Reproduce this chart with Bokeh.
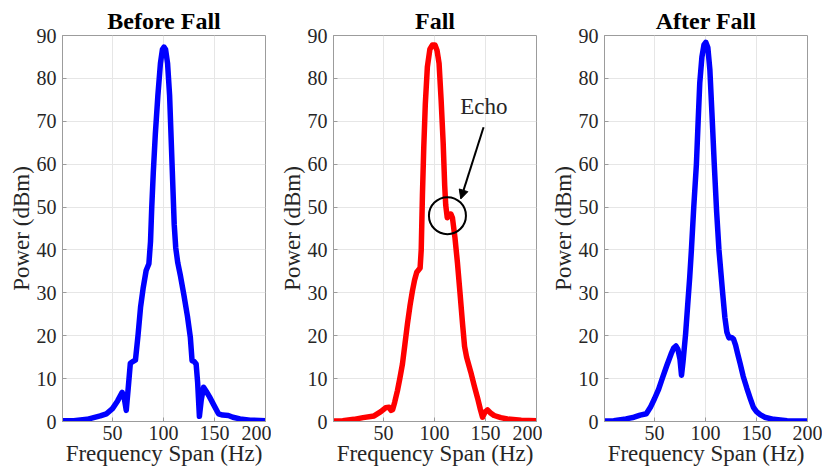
from bokeh.plotting import figure
from bokeh.layouts import row
from bokeh.models import Arrow, NormalHead, Label, FixedTicker, Range1d
from bokeh.embed import file_html
from bokeh.resources import INLINE

# ---- spectrum samples (frequency in Hz, power in dBm) ----
before_f = [1, 12, 25, 38, 44, 50, 55, 59.5, 61.5, 63.5, 65.5, 67.5, 70, 72.5, 75,
            77.5, 80, 83, 85.7, 87.3, 88.5, 90, 92, 94.5, 97, 99, 100.5, 102, 104,
            106, 107.5, 109, 110.5, 112, 114, 116.6, 120, 123.5, 126.3, 128, 130,
            132, 133.5, 135.2, 137, 139.3, 142, 145, 149, 153.9, 158, 163.6, 168,
            175, 185, 200]
before_p = [0.2, 0.2, 0.5, 1.3, 1.8, 3.0, 4.8, 6.8, 5.5, 2.6, 8.0, 13.6, 14.0, 14.3,
            20.0, 26.6, 31.0, 35.2, 36.8, 42.0, 50.0, 58.0, 67.0, 76.0, 83.5, 86.8,
            87.3, 86.8, 83.5, 76.0, 66.0, 56.0, 46.0, 40.5, 37.0, 34.0, 29.5, 24.5,
            19.7, 14.2, 14.0, 13.4, 9.0, 1.2, 5.0, 8.0, 7.0, 5.8, 4.0, 1.8, 1.5, 1.4,
            1.0, 0.6, 0.3, 0.2]

fall_f = [1, 10, 21, 30, 40.8, 47.4, 52, 55.5, 57.5, 59, 61, 63.7, 66, 68.6, 71,
          73.5, 76, 78.4, 80.5, 82.6, 85.9, 87, 88.2, 89.5, 91, 93, 95.5, 98, 100.5,
          102.5, 104.5, 106.5, 108.5, 110, 111, 112.5, 114, 116, 117.6, 120, 122.5,
          125, 127.5, 129.5, 131.5, 135.6, 139, 142.2, 145, 147.1, 149.5, 152, 155,
          158.4, 165, 171.5, 185, 200]
fall_p = [0.1, 0.2, 0.5, 0.9, 1.3, 2.3, 3.2, 3.3, 2.6, 2.8, 4.5, 7.2, 10.0, 13.4,
          18.0, 22.8, 27.0, 30.5, 33.0, 34.8, 35.8, 40.0, 53.0, 64.0, 74.0, 82.6,
          86.8, 87.8, 87.8, 86.5, 83.5, 75.0, 65.0, 55.0, 50.5, 47.5, 48.3, 48.4,
          47.5, 43.0, 37.0, 30.0, 22.8, 17.5, 15.0, 11.5, 8.3, 5.5, 2.8, 1.0, 2.2,
          2.7, 2.0, 1.4, 0.9, 0.6, 0.3, 0.2]

after_f = [1, 10, 22, 30, 36, 42, 46, 50, 54, 58, 62, 66.4, 69, 71, 73, 75, 76.5,
           78, 80.5, 82.5, 84.5, 86.2, 88.5, 91.1, 92.8, 94.4, 96.5, 98.5, 100.3,
           102.3, 104.3, 106.3, 108.6, 110.9, 113.2, 116.8, 119, 121, 123, 125.5,
           127.5, 129.5, 131.5, 134, 137, 140.5, 144, 147, 150, 153.6, 158, 166.8,
           180, 200]
after_p = [0.1, 0.2, 0.6, 1.0, 1.5, 1.8, 3.3, 5.3, 7.5, 10.3, 13.0, 15.8, 17.2,
           17.6, 16.8, 14.5, 10.8, 14.0, 20.4, 27.0, 33.5, 40.0, 50.0, 60.0, 70.0,
           79.0, 85.0, 87.8, 88.4, 87.2, 82.0, 72.0, 60.0, 49.0, 40.0, 30.0, 24.3,
           20.8, 19.5, 19.6, 19.2, 17.8, 15.8, 13.5, 10.5, 7.8, 5.3, 3.3, 2.3, 1.6,
           1.0, 0.5, 0.2, 0.1]

titles = ["Before Fall", "Fall", "After Fall"]
x_ticks = [50, 100, 150, 200]
y_ticks = [0, 10, 20, 30, 40, 50, 60, 70, 80, 90]

# echo marker on the fall spectrum, with its callout
echo_x = [112.7]
echo_y = [48.0]
echo_text = "Echo"
echo_text_at = (148.3, 70.5)
echo_arrow_from = (148.1, 68.6)
echo_arrow_to = (125.8, 51.9)

FONT = "Liberation Serif"
TEXT = "#262626"
FRAME = "#9c9c9c"


def panel(title, fx, fy, color, last=False):
    p = figure(width=280 if last else 271, height=471,
               x_range=Range1d(1, 200), y_range=Range1d(0, 90),
               output_backend="svg", toolbar_location=None,
               min_border_left=62, min_border_right=15 if last else 6,
               min_border_top=35, min_border_bottom=50)
    p.title.text = title
    p.title.align = "center"
    p.title.text_font = FONT
    p.title.text_font_size = "24px"
    p.title.text_font_style = "bold"
    p.title.text_color = "black"
    p.title.standoff = 3

    p.line(fx, fy, line_color=color, line_width=5.5, line_join="round",
           line_cap="round")

    p.xaxis.ticker = FixedTicker(ticks=x_ticks)
    p.yaxis.ticker = FixedTicker(ticks=y_ticks)
    p.xaxis.axis_label = "Frequency Span (Hz)"
    p.yaxis.axis_label = "Power (dBm)"
    for ax in (p.xaxis, p.yaxis):
        ax.axis_label_text_font = FONT
        ax.axis_label_text_font_size = "23px"
        ax.axis_label_text_font_style = "normal"
        ax.axis_label_text_color = TEXT
        ax.major_label_text_font = FONT
        ax.major_label_text_font_size = "20px"
        ax.major_label_text_color = TEXT
        ax.axis_line_color = FRAME
        ax.major_tick_line_color = FRAME
        ax.major_tick_in = 4
        ax.major_tick_out = 0
        ax.minor_tick_line_color = None
    p.xaxis.major_label_standoff = 4
    p.xaxis.axis_label_standoff = -2
    p.yaxis.major_label_standoff = 6
    p.yaxis.axis_label_standoff = 0

    p.xgrid.ticker = FixedTicker(ticks=x_ticks)
    p.ygrid.ticker = FixedTicker(ticks=y_ticks)
    p.grid.grid_line_color = "#e6e6e6"
    p.grid.grid_line_width = 1
    p.outline_line_color = FRAME
    p.outline_line_width = 1
    p.background_fill_color = "white"
    p.border_fill_color = "white"
    return p


p1 = panel(titles[0], before_f, before_p, "#0000ff")
p2 = panel(titles[1], fall_f, fall_p, "#ff0000")
p3 = panel(titles[2], after_f, after_p, "#0000ff", last=True)

# circle around the echo notch
p2.scatter(echo_x, echo_y, marker="circle", size=37, fill_alpha=0,
           line_color="black", line_width=2)
p2.add_layout(Arrow(end=NormalHead(size=9, fill_color="black", line_color="black"),
                    x_start=echo_arrow_from[0], y_start=echo_arrow_from[1],
                    x_end=echo_arrow_to[0], y_end=echo_arrow_to[1],
                    line_color="black", line_width=2))
p2.add_layout(Label(x=echo_text_at[0], y=echo_text_at[1], text=echo_text,
                    text_font=FONT, text_font_size="23px", text_color=TEXT,
                    text_align="center", text_baseline="bottom"))

layout = row(p1, p2, p3)
open("out.html", "w").write(file_html(layout, INLINE))
